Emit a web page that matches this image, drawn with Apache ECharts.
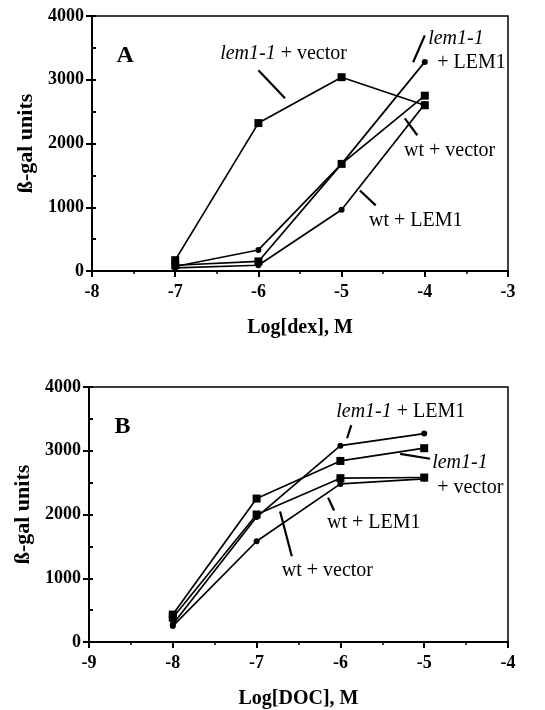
<!DOCTYPE html>
<html><head><meta charset="utf-8">
<script src="https://cdn.jsdelivr.net/npm/echarts@6/dist/echarts.min.js"></script>
<style>html,body{margin:0;padding:0;background:#fff}#c{width:545px;height:710px}</style>
</head><body><div id="c"></div>
<script>
// Panel A: Log[dex], M
const xA = [-7, -6, -5, -4];
const aLemVector = [170, 2320, 3040, 2600];
const aLemLEM1 = [70, 330, 1680, 3280];
const aWtVector = [90, 150, 1680, 2750];
const aWtLEM1 = [50, 90, 960, 2620];
// Panel B: Log[DOC], M
const xB = [-8, -7, -6, -5];
const bLemLEM1 = [280, 1960, 3080, 3270];
const bLemVector = [430, 2250, 2840, 3040];
const bWtVector = [380, 2000, 2570, 2580];
const bWtLEM1 = [250, 1580, 2480, 2560];
// tick settings
const yTicks = [0, 1000, 2000, 3000, 4000];
const xTicksA = [-8, -7, -6, -5, -4, -3];
const xTicksB = [-9, -8, -7, -6, -5, -4];

// annotation labels [text, x, y] and pointers [x1, y1, x2, y2] in data units
const labelsA = [
  ['{i|lem1-1} + vector', -6.46, 3415],
  ['{i|lem1-1}', -3.96, 3650],
  ['+ LEM1', -3.85, 3274],
  ['wt + vector', -4.25, 1893],
  ['wt + LEM1', -4.67, 795]
];
const pointersA = [
  [-6.0, 3148, -5.68, 2709],
  [-4.0, 3697, -4.14, 3274],
  [-4.24, 2394, -4.09, 2129],
  [-4.78, 1263, -4.59, 1030]
];
const labelsB = [
  ['{i|lem1-1} + LEM1', -6.05, 3606],
  ['{i|lem1-1}', -4.905, 2810],
  ['+ vector', -4.845, 2420],
  ['wt + LEM1', -6.16, 1875],
  ['wt + vector', -6.70, 1111]
];
const pointersB = [
  [-5.87, 3402, -5.92, 3196],
  [-5.287, 2952, -4.93, 2874],
  [-6.147, 2265, -6.075, 2062],
  [-6.72, 2047, -6.58, 1345]
];

const FONT = 'Liberation Serif';
const chart = echarts.init(document.getElementById('c'), null, {renderer: 'canvas'});

function pairs(xs, ys) { return xs.map((x, i) => [x, ys[i]]); }
function ser(idx, name, xs, ys, sym) {
  return {
    type: 'line', name: name, xAxisIndex: idx, yAxisIndex: idx * 2,
    data: pairs(xs, ys), symbol: sym, symbolSize: sym === 'rect' ? 8 : 6,
    showSymbol: true, animation: false,
    lineStyle: {color: '#000', width: 1.7},
    itemStyle: {color: '#000'}, z: 3
  };
}
function lab(margin) {
  return {fontFamily: FONT, fontWeight: 'bold', fontSize: 18, color: '#000', margin: margin,
    formatter: v => String(v)};
}
function xAxis(idx, ticks, name) {
  return {
    type: 'value', gridIndex: idx, min: ticks[0], max: ticks[ticks.length - 1], interval: 1,
    name: name, nameLocation: 'middle', nameGap: 47,
    nameTextStyle: {fontFamily: FONT, fontWeight: 'bold', fontSize: 20, color: '#000'},
    axisLine: {show: true, onZero: false, lineStyle: {color: '#000', width: 2}},
    axisTick: {show: true, length: 6, lineStyle: {color: '#000', width: 2}},
    minorTick: {show: true, splitNumber: 2, length: 3, lineStyle: {color: '#000', width: 1.5}},
    axisLabel: lab(12),
    splitLine: {show: false}
  };
}
function yAxes(idx) {
  return [{
    type: 'value', gridIndex: idx, min: yTicks[0], max: yTicks[yTicks.length - 1], interval: 1000, position: 'left',
    name: 'ß-gal units', nameLocation: 'middle', nameGap: 55, nameRotate: 90,
    nameTextStyle: {fontFamily: FONT, fontWeight: 'bold', fontSize: 22, color: '#000'},
    axisLine: {show: true, onZero: false, lineStyle: {color: '#000', width: 2}},
    axisTick: {show: true, length: 6, lineStyle: {color: '#000', width: 2}},
    axisLabel: lab(8),
    splitLine: {show: false}
  }, {
    type: 'value', gridIndex: idx, min: yTicks[0], max: yTicks[yTicks.length - 1], interval: 500, position: 'left',
    axisLine: {show: false},
    axisTick: {show: true, inside: true, length: 4, lineStyle: {color: '#000', width: 2}},
    axisLabel: {show: false}, splitLine: {show: false}
  }];
}

chart.setOption({
  backgroundColor: '#fff',
  animation: false,
  grid: [
    {left: 92, right: 37, top: 16, height: 255, show: true, borderColor: '#000', borderWidth: 1.5},
    {left: 89, right: 37, top: 387, height: 256, show: true, borderColor: '#000', borderWidth: 1.5}
  ],
  xAxis: [xAxis(0, xTicksA, 'Log[dex], M'), xAxis(1, xTicksB, 'Log[DOC], M')],
  yAxis: yAxes(0).concat(yAxes(1)),
  series: [
    ser(0, 'lem1-1 + vector', xA, aLemVector, 'rect'),
    ser(0, 'lem1-1 + LEM1', xA, aLemLEM1, 'circle'),
    ser(0, 'wt + vector', xA, aWtVector, 'rect'),
    ser(0, 'wt + LEM1', xA, aWtLEM1, 'circle'),
    ser(1, 'lem1-1 + LEM1', xB, bLemLEM1, 'circle'),
    ser(1, 'lem1-1 + vector', xB, bLemVector, 'rect'),
    ser(1, 'wt + vector', xB, bWtVector, 'rect'),
    ser(1, 'wt + LEM1', xB, bWtLEM1, 'circle')
  ]
});

const g = [];
function addPanel(idx, labels, pointers, letter) {
  const conv = p => chart.convertToPixel({gridIndex: idx}, p);
  labels.forEach(l => {
    const p = conv([l[1], l[2]]);
    g.push({type: 'text', x: p[0], y: p[1], z: 10, style: {
      text: l[0], fontFamily: FONT, fontSize: 20, fill: '#000',
      verticalAlign: 'middle', align: 'left',
      rich: {i: {fontFamily: FONT, fontStyle: 'italic', fontSize: 20, fill: '#000'}}
    }});
  });
  pointers.forEach(q => {
    const a = conv([q[0], q[1]]), b = conv([q[2], q[3]]);
    g.push({type: 'line', z: 10, shape: {x1: a[0], y1: a[1], x2: b[0], y2: b[1]},
      style: {stroke: '#000', lineWidth: 2.2}});
  });
  const lp = conv([letter[1], letter[2]]);
  g.push({type: 'text', x: lp[0], y: lp[1], z: 10, style: {text: letter[0], fontFamily: FONT,
    fontWeight: 'bold', fontSize: 24, fill: '#000', align: 'center', verticalAlign: 'middle'}});
}
addPanel(0, labelsA, pointersA, ['A', -7.6, 3380]);
addPanel(1, labelsB, pointersB, ['B', -8.6, 3370]);
chart.setOption({graphic: g});
</script></body></html>
